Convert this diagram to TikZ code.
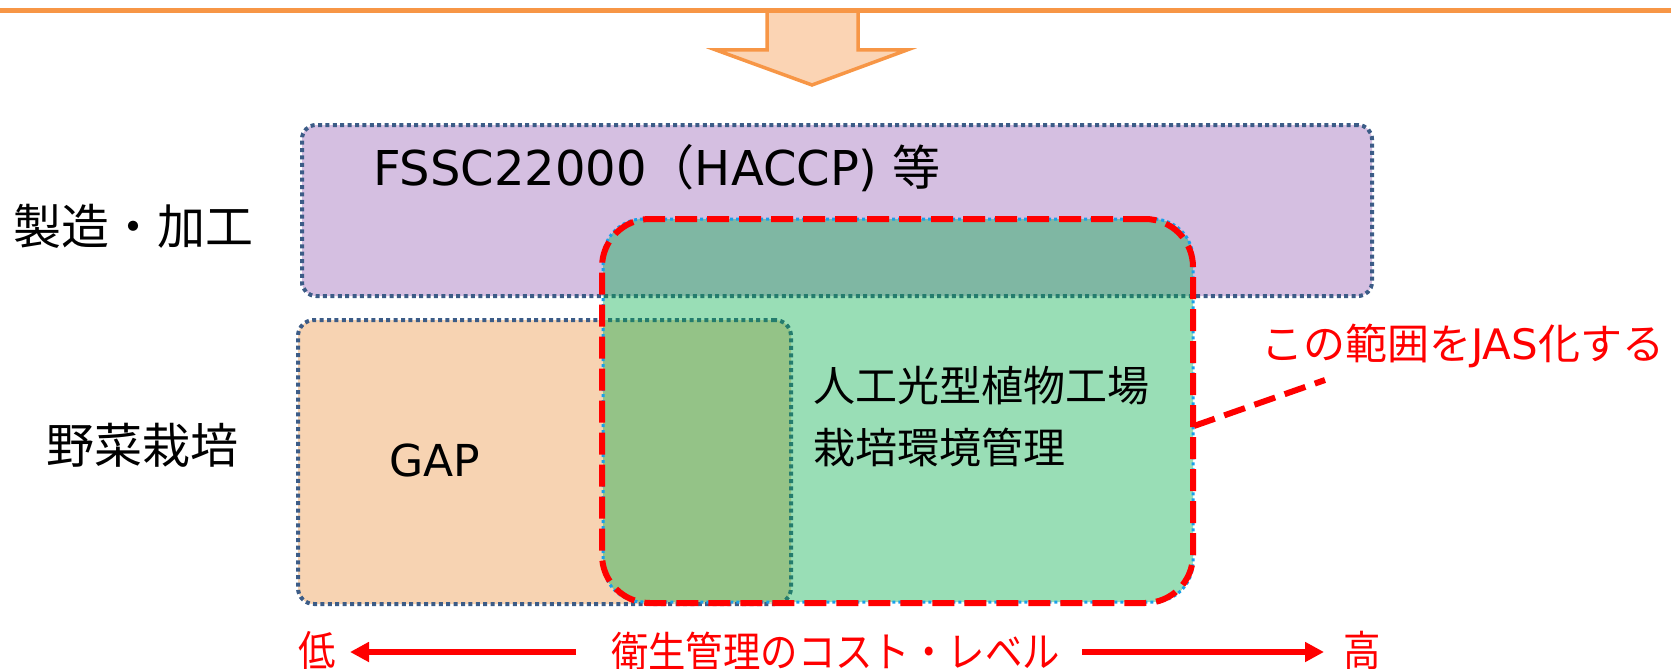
\documentclass[tikz,border=0pt]{standalone}
\usepackage{fontspec}
\usetikzlibrary{arrows.meta}
\newfontfamily\jp{Noto Sans CJK JP}
\newfontfamily\lat{DejaVu Sans}
\definecolor{orangeline}{RGB}{247,150,70}
\definecolor{arrowfill}{RGB}{251,212,180}
\definecolor{purplefill}{RGB}{213,191,225}
\definecolor{peachfill}{RGB}{247,211,178}
\definecolor{greenbase}{RGB}{0,172,72}
\definecolor{dotblue}{RGB}{60,92,135}
\definecolor{lightblue}{RGB}{25,160,235}
\definecolor{redc}{RGB}{255,0,0}
\tikzset{
  dotborder/.style={draw=dotblue, line width=4pt, dash pattern=on 4pt off 3.4pt},
  boxnode/.style={inner sep=0pt, outer sep=0pt, anchor=north west},
  txt/.style={inner sep=0pt, outer sep=0pt, anchor=west, text=black},
  redtxt/.style={inner sep=0pt, outer sep=0pt, text=redc},
  redarrow/.style={draw=redc, line width=6pt, -{Triangle[length=19pt,width=19pt]}},
}
\begin{document}
\begin{tikzpicture}[x=1pt,y=-1pt]
\useasboundingbox (0,0) rectangle (1671,669);
% top arrow
\draw[draw=orangeline, fill=arrowfill, line width=3.5pt, line join=miter]
  (767,10) -- (858,10) -- (858,50) -- (907,50) -- (812,85) -- (716,50) -- (767,50) -- cycle;
\draw[draw=orangeline, line width=4.5pt] (0,10.5) -- (1671,10.5);
% boxes
\node[boxnode, fill=purplefill, dotborder, rounded corners=14pt, minimum width=1070pt, minimum height=171pt] (fssc) at (302,125) {};
\node[boxnode, fill=peachfill, dotborder, rounded corners=16pt, minimum width=493pt, minimum height=284pt] (gap) at (298,320) {};
\node[boxnode, fill=greenbase, fill opacity=0.4, draw=lightblue, draw opacity=1, line width=3pt, dash pattern=on 3pt off 3pt, rounded corners=40pt, minimum width=590pt, minimum height=383pt] (plant) at (603,219) {};
\node[boxnode, draw=redc, line width=6pt, dash pattern=on 22pt off 10pt, rounded corners=48pt, minimum width=591pt, minimum height=384pt] (red) at (602,219) {};
% texts
\node[txt, font=\fontsize{48}{56}\selectfont] (fsscT) at (373,168) {\lat FSSC22000\jp （\lat HACCP) \jp 等};
\node[txt, font=\fontsize{48}{56}\selectfont\jp] (seizo) at (13,226) {製造・加工};
\node[txt, font=\fontsize{48}{56}\selectfont\jp] (yasai) at (46,445) {野菜栽培};
\node[txt, font=\fontsize{44}{52}\selectfont\lat] (gapT) at (389,460) {GAP};
\node[txt, font=\fontsize{42}{62}\selectfont\jp, align=left] (plantT) at (813,417) {人工光型植物工場\\栽培環境管理};
\node[redtxt, anchor=west, font=\fontsize{42}{50}\selectfont\jp] (jas) at (1261,346) {この範囲を{\lat JAS}化する};
\coordinate (c1) at (1194,426);
\coordinate (c2) at (1325,380);
\draw[draw=redc, line width=6pt, dash pattern=on 22pt off 10pt] (c1) -- (c2);
% bottom scale
\node[redtxt, font=\fontsize{42}{50}\selectfont\jp, xscale=0.89, transform shape] (cost) at (835.5,651) {衛生管理のコスト・レベル};
\node[redtxt, font=\fontsize{42}{50}\selectfont\jp, xscale=0.89, transform shape] (low) at (317,651) {低};
\node[redtxt, font=\fontsize{42}{50}\selectfont\jp, xscale=0.89, transform shape] (high) at (1362,651) {高};
\coordinate (la) at (576,652);
\coordinate (lt) at (350,652);
\coordinate (ra) at (1082,652);
\coordinate (rt) at (1324,652);
\draw[redarrow] (la) -- (lt);
\draw[redarrow] (ra) -- (rt);
\end{tikzpicture}
\end{document}
